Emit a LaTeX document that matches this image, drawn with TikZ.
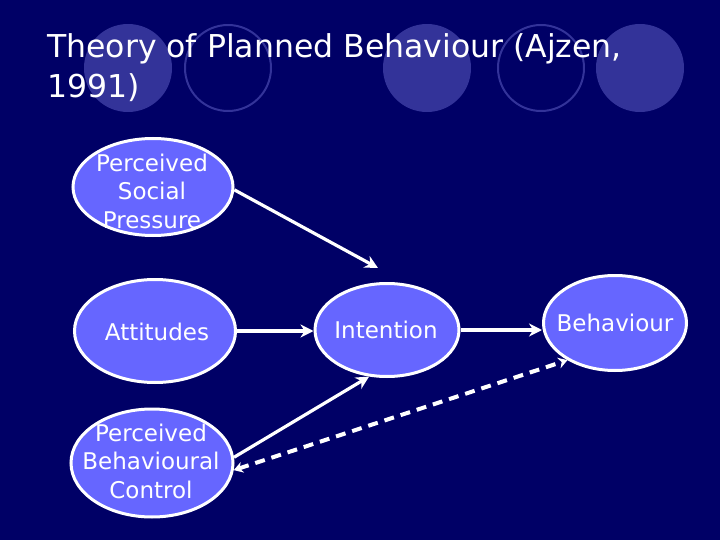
\documentclass[tikz,border=0pt]{standalone}
\usepackage{fontspec}
\setmainfont{DejaVu Sans}
\usetikzlibrary{arrows.meta,shapes.geometric}
\definecolor{bg}{RGB}{0,0,102}
\definecolor{deco}{RGB}{51,51,153}
\definecolor{ellfill}{RGB}{102,102,255}
\begin{document}
\begin{tikzpicture}[x=1pt,y=-1pt,
  concept/.style={ellipse, draw=white, line width=3pt, fill=ellfill, inner sep=0pt},
  ctext/.style={text=white, align=center, inner sep=0pt, font=\fontsize{23}{28.5}\selectfont},
  title/.style={text=white, anchor=base west, inner sep=0pt, font=\fontsize{31.5}{38}\selectfont},
  link/.style={draw=white, line width=3.2pt, -{Stealth[length=13pt,width=13pt]}},
  dlink/.style={draw=white, line width=4pt, dash pattern=on 10pt off 7pt,
     {Stealth[length=9pt,width=11pt]}-{Stealth[length=9pt,width=11pt]}},
  decofill/.style={fill=deco},
  decoline/.style={draw=deco, line width=2pt},
]
\fill[bg] (0,0) rectangle (720,540);
\useasboundingbox (0,0) rectangle (720,540);
% decorative circles
\fill[decofill] (128,68) circle[radius=44];
\draw[decoline] (228,68) circle[radius=43];
\fill[decofill] (427,68) circle[radius=44];
\draw[decoline] (541,68) circle[radius=43];
\fill[decofill] (640,68) circle[radius=44];
% title
\node[title] (t1) at (47,58) {Theory of Planned Behaviour (Ajzen,};
\node[title] (t2) at (47,98) {1991)};
% concepts
\node[concept, minimum width=160, minimum height=97] (psp) at (153,187) {};
\node[concept, minimum width=161, minimum height=103] (att) at (155,331) {};
\node[concept, minimum width=162, minimum height=108] (pbc) at (152,463) {};
\node[concept, minimum width=144, minimum height=93] (int) at (387,330) {};
\node[concept, minimum width=143, minimum height=95] (beh) at (615,323) {};
\node[ctext] (pspt) at (152,191) {Perceived\\Social\\Pressure};
\node[ctext] (attt) at (157,332) {Attitudes};
\node[ctext] (pbct) at (151,461) {Perceived\\Behavioural\\Control};
\node[ctext] (intt) at (386,330) {Intention};
\node[ctext] (beht) at (615,323) {Behaviour};
% connectors
\coordinate (pspend) at (378,268);
\draw[link] (psp.-2) -- (pspend);
\draw[link] (att.east) -- (att.east -| int.west);
\draw[link] (int.east) -- (int.east -| beh.west);
\draw[link] (pbc.4) -- (int.-111);
\draw[dlink] (pbc.-5) -- (beh.-142.5);
\end{tikzpicture}
\end{document}
